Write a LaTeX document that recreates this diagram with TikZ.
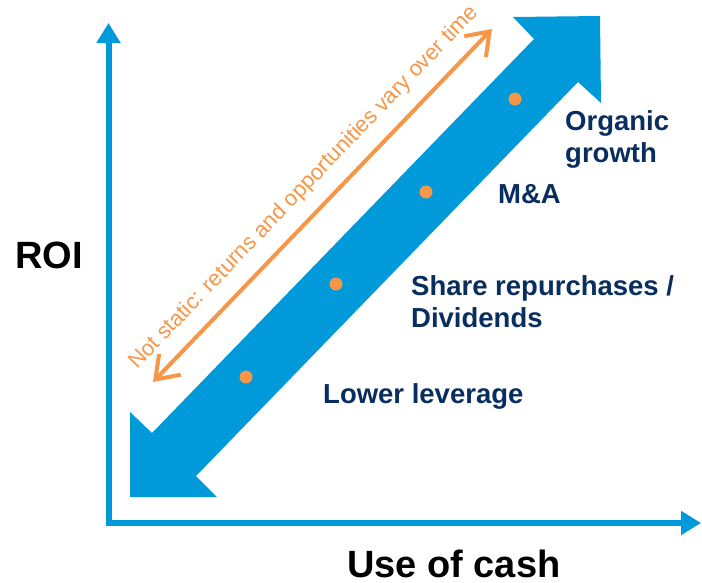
\documentclass[tikz,border=0pt]{standalone}
\usepackage{fontspec}
\setmainfont{Liberation Sans}
\usetikzlibrary{arrows.meta,calc}
\definecolor{cblue}{RGB}{0,153,218}
\definecolor{corange}{RGB}{247,150,70}
\definecolor{cnavy}{RGB}{8,45,95}
\begin{document}
\begin{tikzpicture}[x=1pt,y=-1pt,
  axis/.style={draw=cblue, line width=6pt, line join=miter,
    arrows={Triangle[length=20pt,width=23pt]-Triangle[length=20pt,width=23pt]}},
  bigarrow/.style={fill=cblue},
  spread/.style={draw=corange, line width=4pt,
    arrows={Straight Barb[length=21pt,width=30pt]-Straight Barb[length=21pt,width=30pt]}},
  note/.style={text=corange, font=\fontsize{22}{26}\selectfont, inner sep=0pt, anchor=base},
  lbl/.style={text=cnavy, font=\fontsize{27.5}{32}\selectfont\bfseries, inner sep=0pt, anchor=base west},
  axlbl/.style={text=black, font=\fontsize{38}{44}\selectfont\bfseries, inner sep=0pt, anchor=base west},
  dot/.style={circle, fill=corange, minimum size=13pt, inner sep=0pt}]
\useasboundingbox (0,0) rectangle (702,582);
\fill[white] (0,0) rectangle (702,582);
% axes
\coordinate (ytip) at (108.5,23);
\coordinate (corner) at (108.5,523);
\coordinate (xtip) at (701,523);
\draw[axis] (ytip) -- (corner) -- (xtip);
% big double arrow
\fill[bigarrow] (130,497) -- (217,497) -- (196,476) -- (578,82) -- (601,103)
  -- (600,16) -- (513,17) -- (534,39) -- (152,433) -- (130,412) -- cycle;
% orange double arrow and note
\coordinate (oa) at (153,382);
\coordinate (ob) at (492,29);
\draw[spread] (oa) -- (ob);
\coordinate (om) at ($(oa)!0.5!(ob)$);
\node[note, rotate=46.2] (notetext) at ($(om)!20pt!90:(ob)$) {Not static: returns and opportunities vary over time};
% dots
\node[dot] (d1) at (246,377) {};
\node[dot] (d2) at (336,284) {};
\node[dot] (d3) at (426,192) {};
\node[dot] (d4) at (515,99) {};
% labels
\node[lbl] (organic) at (565,130) {\begin{tabular}[t]{@{}l@{}}Organic\\growth\end{tabular}};
\node[lbl] (ma) at (498,203) {M\&A};
\node[lbl] (share) at (411,295) {\begin{tabular}[t]{@{}l@{}}Share repurchases /\\Dividends\end{tabular}};
\node[lbl] (lower) at (323,403) {Lower leverage};
\node[axlbl] (roi) at (15,268) {ROI};
\node[axlbl] (cash) at (347,577) {Use of cash};
\end{tikzpicture}
\end{document}
